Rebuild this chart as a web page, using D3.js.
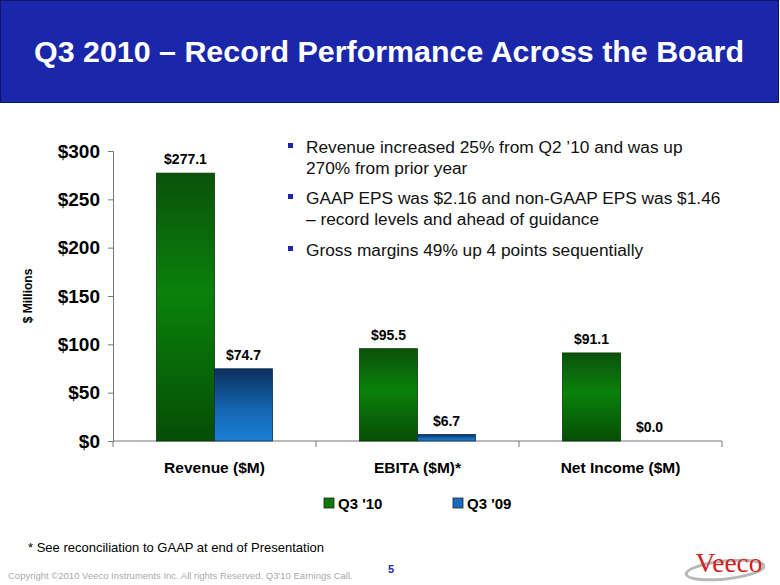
<!DOCTYPE html>
<html><head><meta charset="utf-8">
<script src="https://cdn.jsdelivr.net/npm/d3@7"></script>
<style>body{margin:0;background:#fff;}svg{display:block;font-family:"Liberation Sans",Arial,sans-serif;}</style>
</head><body><svg id="c" width="780" height="585"></svg>
<script>
const categories = ["Revenue ($M)", "EBITA ($M)*", "Net Income ($M)"];
const seriesNames = ["Q3 '10", "Q3 '09"];
const q3_10 = [277.1, 95.5, 91.1];
const q3_09 = [74.7, 6.7, 0.0];
const yTicks = [0, 50, 100, 150, 200, 250, 300];
const bullets = [
  ["Revenue increased 25% from Q2 \u201910 and was up", "270% from prior year"],
  ["GAAP EPS was $2.16 and non-GAAP EPS was $1.46", "\u2013 record levels and ahead of guidance"],
  ["Gross margins 49% up 4 points sequentially"]
];

(function(){
const FONT = "'Liberation Sans', Arial, sans-serif";
const svg = d3.select("#c");
const defs = svg.append("defs");
const gG = defs.append("linearGradient").attr("id","gGreen").attr("x1",0).attr("y1",0).attr("x2",0).attr("y2",1);
gG.append("stop").attr("offset","0%").attr("stop-color","#0b520b");
gG.append("stop").attr("offset","45%").attr("stop-color","#0a810a");
gG.append("stop").attr("offset","100%").attr("stop-color","#064d06");
const gB = defs.append("linearGradient").attr("id","gBlue").attr("x1",0).attr("y1",0).attr("x2",0).attr("y2",1);
gB.append("stop").attr("offset","0%").attr("stop-color","#0b2f5c");
gB.append("stop").attr("offset","55%").attr("stop-color","#1565b0");
gB.append("stop").attr("offset","100%").attr("stop-color","#1a80d6");

// Title bar
svg.append("rect").attr("x",0.5).attr("y",0.5).attr("width",778).attr("height",102)
  .attr("fill","#1b27aa").attr("stroke","#0f1760").attr("stroke-width",1);
svg.append("text").attr("x",389).attr("y",62).attr("text-anchor","middle")
  .attr("fill","#fff").attr("font-size",30.4).attr("font-weight","bold").attr("font-family",FONT)
  .text("Q3 2010 \u2013 Record Performance Across the Board");

// Chart
const pL = 113, pR = 722, pT = 151, pB = 441;
const y = d3.scaleLinear().domain([0,300]).range([pB, pT]);
const x0 = d3.scaleBand().domain(categories).range([pL, pR]).paddingInner(0).paddingOuter(0);
const x1 = d3.scaleBand().domain(seriesNames).range([0, x0.bandwidth()]).paddingInner(0).paddingOuter(0.75);

const yAxis = d3.axisLeft(y).tickValues(yTicks).tickFormat(d => "$" + d).tickSize(5).tickPadding(8);
const ya = svg.append("g").attr("transform",`translate(${pL},0)`).call(yAxis);
ya.select(".domain").attr("stroke","#777");
ya.selectAll(".tick line").attr("stroke","#777");
ya.selectAll(".tick text").attr("font-size",19).attr("font-weight","bold").attr("fill","#000")
  .attr("font-family",FONT);

const xAxis = d3.axisBottom(x0).tickSize(0).tickPadding(21);
const xa = svg.append("g").attr("transform",`translate(0,${pB})`).call(xAxis);
xa.select(".domain").attr("stroke","#777").attr("d",`M${pL},0H${pR}`);
xa.selectAll(".tick text").attr("font-size",15.5).attr("font-weight","bold").attr("fill","#000")
  .attr("font-family",FONT);
const bounds = categories.map(c => x0(c)).concat([x0.range()[1]]);
xa.selectAll(".bnd").data(bounds).join("line").attr("class","bnd")
  .attr("x1", d => d).attr("x2", d => d).attr("y1",0).attr("y2",6).attr("stroke","#777");

svg.append("text").attr("transform",`translate(32,${(pT+pB)/2}) rotate(-90)`)
  .attr("text-anchor","middle").attr("font-size",12).attr("font-weight","bold").attr("font-family",FONT).text("$ Millions");

const data = categories.map((c,i) => ({c, vals:[{s:seriesNames[0], v:q3_10[i]},{s:seriesNames[1], v:q3_09[i]}]}));
const groups = svg.append("g").selectAll("g").data(data).join("g")
  .attr("transform", d => `translate(${x0(d.c)},0)`);
groups.selectAll("rect").data(d => d.vals).join("rect")
  .attr("x", d => x1(d.s)).attr("width", x1.bandwidth())
  .attr("y", d => y(d.v)).attr("height", d => pB - y(d.v))
  .attr("fill", (d,i) => i===0 ? "url(#gGreen)" : "url(#gBlue)")
  .attr("stroke", (d,i) => i===0 ? "#063806" : "#0a2c55").attr("stroke-width", d => d.v>0?0.8:0);
groups.selectAll("text").data(d => d.vals).join("text")
  .attr("x", d => x1(d.s) + x1.bandwidth()/2).attr("y", d => y(d.v) - 9)
  .attr("text-anchor","middle").attr("font-size",14).attr("font-weight","bold").attr("font-family",FONT)
  .text(d => "$" + d.v.toFixed(1));

// Legend
const legX = [324, 453];
seriesNames.forEach((s,i) => {
  svg.append("rect").attr("x",legX[i]).attr("y",498).attr("width",10).attr("height",10)
    .attr("fill", i===0 ? "#0a7a0a" : "#1a6cc0").attr("stroke","#222").attr("stroke-width",0.8);
  svg.append("text").attr("x",legX[i]+14).attr("y",508.5).attr("font-size",15).attr("font-weight","bold").attr("font-family",FONT).text(s);
});

// Bullets
const bx = 306;
const lineYs = [[153,174],[204,225],[256]];
bullets.forEach((b,i) => {
  svg.append("rect").attr("x",288).attr("y",lineYs[i][0]-10).attr("width",5).attr("height",5).attr("fill","#1b27aa");
  b.forEach((t,j) => {
    svg.append("text").attr("x",bx).attr("y",lineYs[i][j]).attr("font-size",17.3).attr("fill","#111").attr("font-family",FONT).text(t);
  });
});

// Footer
svg.append("text").attr("x",28).attr("y",552).attr("font-size",13).attr("fill","#000").attr("font-family",FONT)
  .text("* See reconciliation to GAAP at end of Presentation");
svg.append("text").attr("x",391).attr("y",573).attr("font-size",11).attr("font-weight","bold").attr("fill","#1b27aa")
  .attr("text-anchor","middle").attr("font-family",FONT).text("5");
svg.append("text").attr("x",8).attr("y",579).attr("font-size",9.5).attr("fill","#aaa").attr("font-family",FONT)
  .text("Copyright \u00a92010 Veeco Instruments Inc. All rights Reserved. Q3'10 Earnings Call.");
// Logo
svg.append("ellipse").attr("cx",725).attr("cy",570).attr("rx",39).attr("ry",9)
  .attr("fill","none").attr("stroke","#b8b8b8").attr("stroke-width",3).attr("transform","rotate(-6,725,570)");
svg.append("text").attr("x",729).attr("y",572).attr("text-anchor","middle")
  .attr("font-family","'Liberation Serif','DejaVu Serif',serif").attr("font-size",27).attr("fill","#d42020")
  .attr("textLength",67).attr("lengthAdjust","spacingAndGlyphs").text("Veeco");
})();
</script></body></html>
